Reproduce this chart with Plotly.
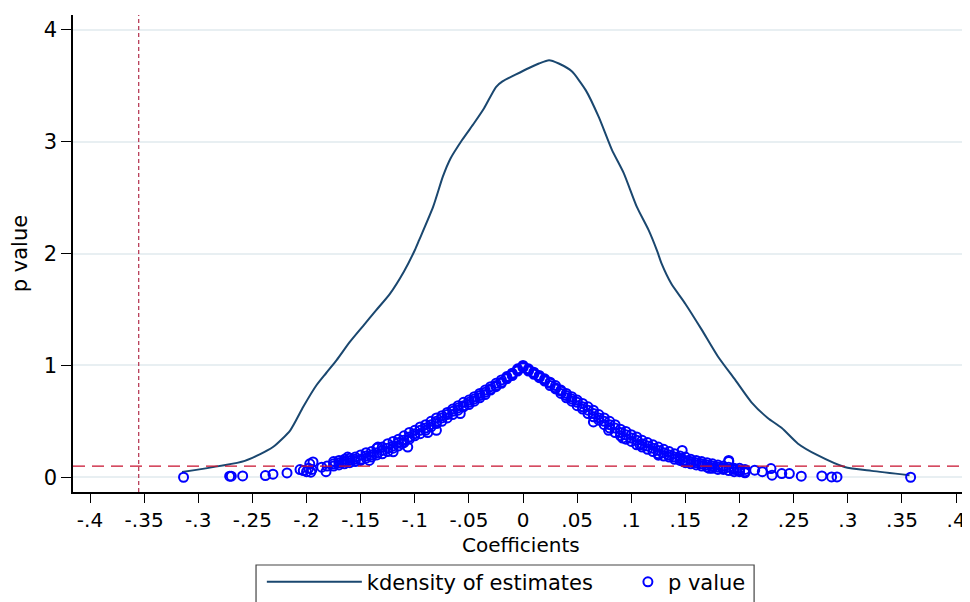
import plotly.graph_objects as go

# Kernel density of estimates
kd_x = [-0.315, -0.257, -0.231, -0.215, -0.203, -0.191, -0.182, -0.172, -0.160, -0.148,
        -0.136, -0.123, -0.110, -0.100, -0.096, -0.083, -0.074, -0.067, -0.056, -0.045,
        -0.036, -0.025, -0.019, -0.007, 0.0055, 0.0147, 0.024, 0.033, 0.045, 0.058,
        0.070, 0.082, 0.093, 0.105, 0.116, 0.124, 0.128, 0.137, 0.150, 0.165,
        0.180, 0.196, 0.211, 0.226, 0.239, 0.254, 0.272, 0.297, 0.322, 0.357]
kd_y = [0.047, 0.146, 0.27, 0.42, 0.63, 0.82, 0.93, 1.05, 1.21, 1.35,
        1.49, 1.64, 1.84, 2.03, 2.12, 2.42, 2.69, 2.85, 3.02, 3.17,
        3.30, 3.49, 3.54, 3.60, 3.66, 3.70, 3.73, 3.70, 3.63, 3.46,
        3.22, 2.93, 2.72, 2.42, 2.21, 2.02, 1.91, 1.73, 1.55, 1.32,
        1.08, 0.87, 0.67, 0.53, 0.44, 0.30, 0.197, 0.092, 0.057, 0.018]

# p values: main band on a coefficient grid (upper / middle / lower points)
band_x = [-0.175, -0.17, -0.165, -0.16, -0.155, -0.15, -0.145, -0.14, -0.135, -0.13,
          -0.125, -0.12, -0.115, -0.11, -0.105, -0.10, -0.095, -0.09, -0.085, -0.08,
          -0.075, -0.07, -0.065, -0.06, -0.055, -0.05, -0.045, -0.04, -0.035, -0.03,
          -0.025, -0.02, -0.015, -0.01, -0.005, 0.0, 0.005, 0.01, 0.015, 0.02,
          0.025, 0.03, 0.035, 0.04, 0.045, 0.05, 0.055, 0.06, 0.065, 0.07,
          0.075, 0.08, 0.085, 0.09, 0.095, 0.10, 0.105, 0.11, 0.115, 0.12,
          0.125, 0.13, 0.135, 0.14, 0.145, 0.15, 0.155, 0.16, 0.165, 0.17,
          0.175, 0.18, 0.185, 0.19, 0.195, 0.20, 0.205]
band_hi = [0.14, 0.15, 0.16, 0.17, 0.18, 0.20, 0.22, 0.23, 0.26, 0.27,
           0.30, 0.32, 0.34, 0.37, 0.40, 0.42, 0.45, 0.47, 0.50, 0.53,
           0.55, 0.58, 0.61, 0.64, 0.67, 0.69, 0.72, 0.75, 0.78, 0.81,
           0.84, 0.87, 0.90, 0.93, 0.97, 1.00, 0.97, 0.94, 0.91, 0.88,
           0.85, 0.82, 0.78, 0.75, 0.72, 0.69, 0.66, 0.63, 0.60, 0.56,
           0.53, 0.50, 0.47, 0.43, 0.41, 0.38, 0.36, 0.33, 0.31, 0.29,
           0.27, 0.25, 0.23, 0.21, 0.19, 0.18, 0.16, 0.15, 0.14, 0.13,
           0.12, 0.11, 0.10, 0.14, 0.08, 0.08, 0.07]
band_mid = [0.12, 0.13, 0.14, 0.15, 0.16, 0.16, 0.19, 0.20, 0.22, 0.24,
            0.26, 0.28, 0.31, 0.33, 0.36, 0.39, 0.42, 0.44, 0.47, 0.50,
            0.53, 0.56, 0.59, 0.62, 0.64, 0.67, 0.70, 0.73, 0.76, 0.79,
            0.82, 0.85, 0.89, 0.92, 0.96, 0.99, 0.96, 0.93, 0.90, 0.87,
            0.84, 0.80, 0.77, 0.73, 0.70, 0.67, 0.63, 0.60, 0.57, 0.53,
            0.50, 0.47, 0.44, 0.40, 0.38, 0.35, 0.33, 0.30, 0.28, 0.26,
            0.24, 0.22, 0.20, 0.18, 0.17, 0.15, 0.14, 0.13, 0.12, 0.11,
            0.10, 0.09, 0.08, 0.09, 0.07, 0.06, 0.05]
band_lo = [0.10, 0.11, 0.12, 0.13, 0.14, 0.15, 0.17, 0.18, 0.20, 0.21,
           0.23, 0.26, 0.28, 0.31, 0.34, 0.37, 0.39, 0.42, 0.45, 0.48,
           0.50, 0.53, 0.56, 0.60, 0.63, 0.65, 0.68, 0.71, 0.74, 0.78,
           0.81, 0.84, 0.88, 0.91, 0.95, 0.98, 0.95, 0.92, 0.89, 0.86,
           0.82, 0.79, 0.75, 0.71, 0.68, 0.64, 0.61, 0.57, 0.54, 0.51,
           0.47, 0.44, 0.40, 0.37, 0.34, 0.32, 0.29, 0.27, 0.25, 0.23,
           0.21, 0.19, 0.18, 0.16, 0.15, 0.13, 0.12, 0.11, 0.10, 0.09,
           0.08, 0.07, 0.07, 0.06, 0.05, 0.05, 0.04]

# p values: scattered points off the band and in the tails
tail_x = [-0.3136, -0.271, -0.2695, -0.259, -0.238, -0.231, -0.218, -0.206, -0.203, -0.200,
          -0.198, -0.197, -0.196, -0.195, -0.182, -0.181, -0.186, -0.194,
          -0.162, -0.142, -0.134, -0.120, -0.1065, -0.080, -0.088, -0.058, -0.112,
          0.065, 0.079, 0.092, 0.125, 0.147, 0.148, 0.190, 0.172, 0.108,
          0.214, 0.221, 0.229, 0.230, 0.239, 0.246, 0.257, 0.276, 0.285, 0.290, 0.358]
tail_p = [0.0, 0.009, 0.009, 0.012, 0.015, 0.027, 0.039, 0.069, 0.060, 0.050,
          0.080, 0.120, 0.045, 0.070, 0.050, 0.100, 0.090, 0.137,
          0.180, 0.150, 0.270, 0.227, 0.270, 0.420, 0.400, 0.570, 0.300,
          0.495, 0.420, 0.350, 0.197, 0.240, 0.140, 0.150, 0.080, 0.290,
          0.063, 0.050, 0.078, 0.018, 0.033, 0.033, 0.009, 0.012, 0.003, 0.003, 0.0]

pv_x = band_x + band_x + band_x + tail_x
pv_y = band_hi + band_mid + band_lo + tail_p

x_ticks = [-0.4, -0.35, -0.3, -0.25, -0.2, -0.15, -0.1, -0.05, 0, 0.05, 0.1, 0.15, 0.2, 0.25, 0.3, 0.35, 0.4]
x_labels = ["-.4", "-.35", "-.3", "-.25", "-.2", "-.15", "-.1", "-.05", "0", ".05", ".1", ".15", ".2", ".25", ".3", ".35", ".4"]
y_ticks = [0, 1, 2, 3, 4]

p_threshold = 0.1
v_line_x = -0.355

FONT = "DejaVu Sans, Liberation Sans, Arial, sans-serif"

fig = go.Figure()
fig.add_trace(go.Scatter(x=kd_x, y=kd_y, mode="lines", name="kdensity of estimates",
                         line=dict(color="#1a476f", width=2, shape="spline", smoothing=0.6),
                         legend="legend"))
fig.add_trace(go.Scatter(x=pv_x, y=pv_y, mode="markers", name="p value", legend="legend2",
                         marker=dict(symbol="circle-open", size=9, color="#0000ff",
                                     line=dict(width=2, color="#0000ff"))))

fig.add_shape(type="line", xref="paper", yref="y", x0=0, x1=1, y0=p_threshold, y1=p_threshold,
              line=dict(color="#c8102e", width=1.2, dash="12px,7px"))
fig.add_shape(type="line", xref="x", yref="paper", x0=v_line_x, x1=v_line_x, y0=0, y1=1,
              line=dict(color="#b22d4a", width=1.2, dash="4px,3px"))
# legend frame
fig.add_shape(type="rect", xref="paper", yref="paper", x0=0.2045, x1=0.761, y0=-0.153, y1=-0.3,
              line=dict(color="#444444", width=1.2), fillcolor="rgba(0,0,0,0)", layer="above")

# x axis title
fig.add_annotation(text="Coefficients", xref="paper", yref="paper", x=0.5, y=-0.111,
                   xanchor="center", yanchor="middle", showarrow=False, font=dict(size=20))

# page body has an 8px margin, so the figure is 8px smaller and shifted
fig.update_layout(
    width=962, height=594,
    margin=dict(l=65, r=2, t=7, b=110, autoexpand=False),
    paper_bgcolor="white", plot_bgcolor="white",
    font=dict(family=FONT, size=21, color="black"),
    showlegend=True,
    legend=dict(orientation="h", x=0.211, xanchor="left", y=-0.146, yanchor="top",
                borderwidth=0, font=dict(size=21), itemwidth=95, bgcolor="rgba(0,0,0,0)"),
    legend2=dict(orientation="h", x=0.62, xanchor="left", y=-0.146, yanchor="top",
                 borderwidth=0, font=dict(size=21), itemwidth=30, bgcolor="rgba(0,0,0,0)"),
)
fig.update_xaxes(range=[-0.4157, 0.411], tickvals=x_ticks, ticktext=x_labels, automargin=False,
                 showgrid=False, zeroline=False, showline=True, linecolor="black", linewidth=1.5,
                 ticks="outside", ticklen=9, tickwidth=1.3, tickcolor="black",
                 tickfont=dict(size=20))
fig.update_yaxes(range=[-0.132, 4.134], tickvals=y_ticks, automargin=False,
                 showgrid=True, gridcolor="#e8eff2", gridwidth=1.5, zeroline=False,
                 showline=True, linecolor="black", linewidth=1.5,
                 ticks="outside", ticklen=10, tickwidth=1.3, tickcolor="black",
                 tickfont=dict(size=21),
                 title=dict(text="p value", standoff=12, font=dict(size=21)))

fig.write_html("out.html")
